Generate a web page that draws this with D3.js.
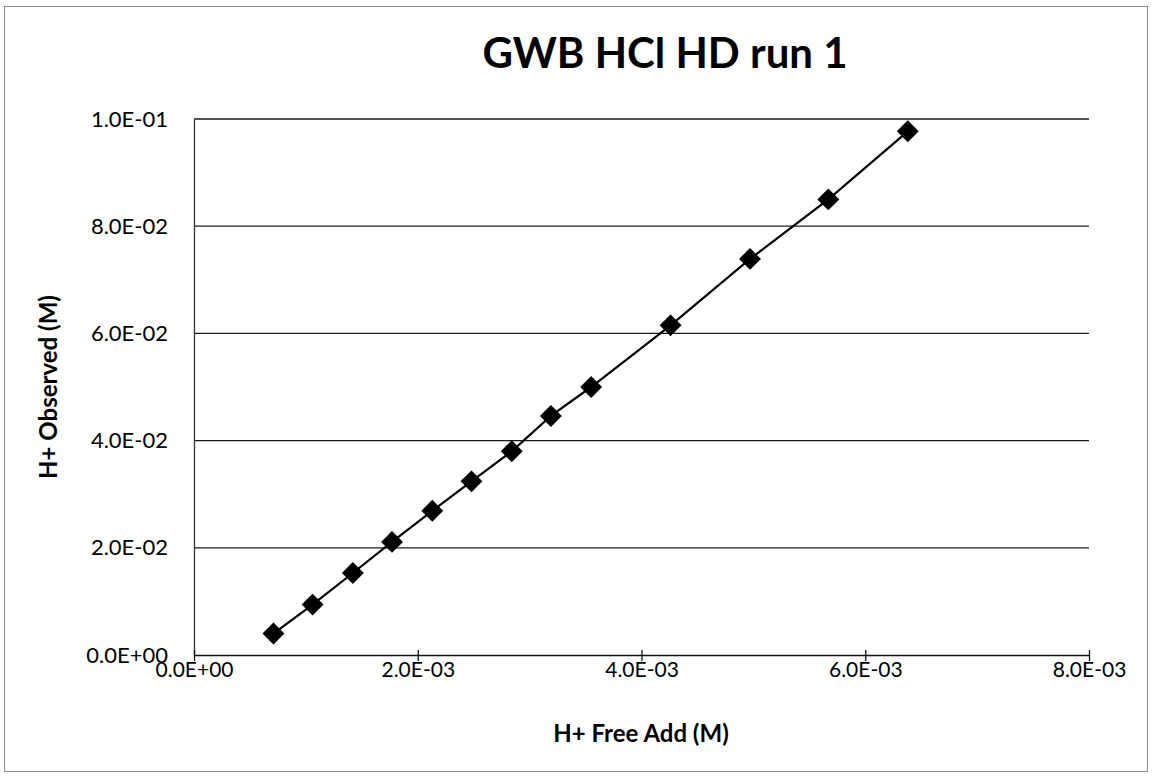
<!DOCTYPE html>
<html>
<head>
<meta charset="utf-8">
<script src="https://cdn.jsdelivr.net/npm/d3@7"></script>
<style>
  html, body { margin: 0; padding: 0; background: #fff; }
  svg { display: block; }
  text { font-family: Lato, "Open Sans", sans-serif; fill: #000; }
</style>
</head>
<body>
<svg id="chart" width="1155" height="778"></svg>
<script>
// ---- data ----
const title = "GWB HCl HD run 1";
const xTitle = "H+ Free Add (M)";
const yTitle = "H+ Observed (M)";
const xValues = [0.00071, 0.00106, 0.00142, 0.00177, 0.00213, 0.00248, 0.00284, 0.00319, 0.00355, 0.00426, 0.00497, 0.00567, 0.00638];
const yValues = [0.0040, 0.0094, 0.0153, 0.0211, 0.0269, 0.0324, 0.0380, 0.0446, 0.0500, 0.0615, 0.0739, 0.0850, 0.0977];
const xTicks = [0, 0.002, 0.004, 0.006, 0.008];
const yTicks = [0, 0.02, 0.04, 0.06, 0.08, 0.1];
const xTickLabels = ["0.0E+00", "2.0E-03", "4.0E-03", "6.0E-03", "8.0E-03"];
const yTickLabels = ["0.0E+00", "2.0E-02", "4.0E-02", "6.0E-02", "8.0E-02", "1.0E-01"];

// ---- layout ----
const plot = { left: 194, right: 1089, top: 119, bottom: 655 };

const svg = d3.select("#chart");

// outer chart border
svg.append("rect")
  .attr("x", 4.5).attr("y", 6.5)
  .attr("width", 1143).attr("height", 765)
  .attr("fill", "none").attr("stroke", "#8a8a8a").attr("stroke-width", 1);

const x = d3.scaleLinear().domain([0, 0.008]).range([plot.left, plot.right]);
const y = d3.scaleLinear().domain([0, 0.1]).range([plot.bottom, plot.top]);

// gridlines
svg.append("g")
  .selectAll("line")
  .data(yTicks.filter(d => d > 0))
  .join("line")
  .attr("x1", plot.left).attr("x2", plot.right)
  .attr("y1", d => y(d)).attr("y2", d => y(d))
  .attr("stroke", "#1a1a1a").attr("stroke-width", 1.3);

// y axis
const yAxis = d3.axisLeft(y)
  .tickValues(yTicks)
  .tickFormat((d, i) => yTickLabels[i])
  .tickSize(0)
  .tickPadding(26);
const gy = svg.append("g").attr("transform", `translate(${plot.left},0)`).call(yAxis);
gy.select(".domain").attr("stroke", "#333").attr("stroke-width", 1.3);
gy.selectAll("text").style("font-size", "22px").attr("font-family", "Lato, sans-serif");

// x axis (cross ticks)
const xAxis = d3.axisBottom(x)
  .tickValues(xTicks)
  .tickFormat((d, i) => xTickLabels[i])
  .tickSize(0)
  .tickPadding(7);
const gx = svg.append("g").attr("transform", `translate(0,${plot.bottom})`).call(xAxis);
gx.select(".domain").attr("stroke", "#111").attr("stroke-width", 1.3);
gx.selectAll(".tick line").remove();
gx.selectAll(".tick").append("line")
  .attr("y1", -5).attr("y2", 6)
  .attr("stroke", "#111").attr("stroke-width", 1.3);
gx.selectAll("text").style("font-size", "21px").attr("font-family", "Lato, sans-serif");

// series line
const pts = xValues.map((v, i) => [v, yValues[i]]);
svg.append("path")
  .datum(pts)
  .attr("fill", "none")
  .attr("stroke", "#000")
  .attr("stroke-width", 2.2)
  .attr("d", d3.line().x(d => x(d[0])).y(d => y(d[1])));

// diamond markers
svg.append("g")
  .selectAll("path")
  .data(pts)
  .join("path")
  .attr("transform", d => `translate(${x(d[0])},${y(d[1])}) rotate(45)`)
  .attr("d", d3.symbol().type(d3.symbolSquare).size(240))
  .attr("fill", "#000");

// title
svg.append("text")
  .attr("x", 665).attr("y", 68)
  .attr("text-anchor", "middle")
  .style("font-size", "42px").style("font-weight", "bold")
  .text(title);

// axis titles
svg.append("text")
  .attr("x", 641).attr("y", 742)
  .attr("text-anchor", "middle")
  .style("font-size", "24px").style("font-weight", "bold")
  .text(xTitle);

svg.append("text")
  .attr("transform", `translate(57,${(plot.top + plot.bottom) / 2}) rotate(-90)`)
  .attr("text-anchor", "middle")
  .style("font-size", "24px").style("font-weight", "bold")
  .text(yTitle);
</script>
</body>
</html>
